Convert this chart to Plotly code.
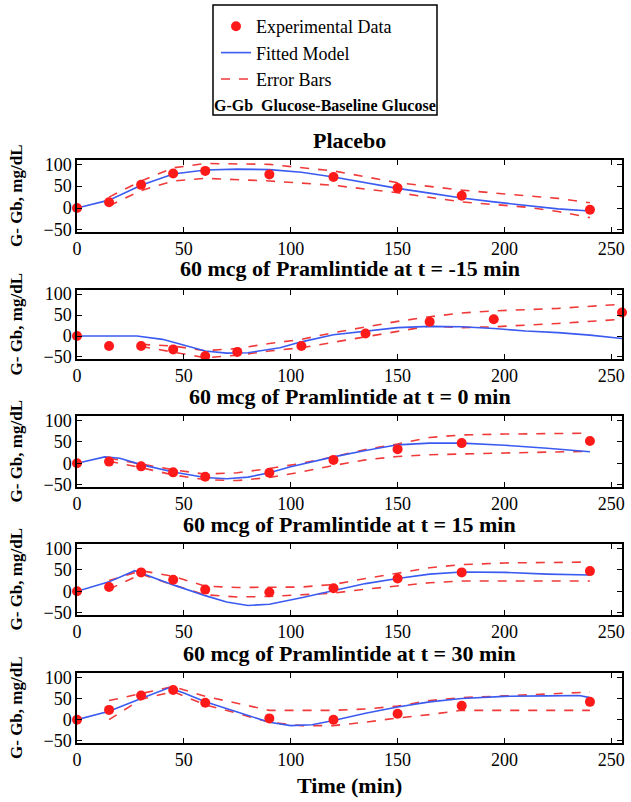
import plotly.graph_objects as go

# experimental sample times (min)
t_exp = [0, 15, 30, 45, 60, 90, 120, 150, 180, 240]
t_exp_m15 = [0, 15, 30, 45, 60, 75, 105, 135, 165, 195, 255]

# Placebo
g_exp_placebo = [0, 13, 53, 79, 85, 77, 71, 46, 28, -4]
t_fit_placebo = [0, 15, 30, 45, 60, 75, 90, 105, 120, 135, 150, 165, 180, 195, 210, 225, 240]
g_fit_placebo = [0, 18, 52, 78, 87, 89, 88, 82, 71, 58, 45, 34, 23, 14, 6, -2, -7]
t_err_placebo = [15, 30, 45, 60, 90, 120, 150, 180, 210, 225, 240]
up_placebo = [25, 62, 92, 102, 100, 85, 58, 41, 28, 22, 12]
lo_placebo = [5, 40, 62, 68, 62, 52, 35, 14, 2, -8, -22]

# t = -15 min
g_exp_m15 = [0, -24, -24, -32, -48, -38, -24, 6, 34, 40, 56]
t_fit_m15 = [0, 28, 40, 50, 60, 70, 80, 95, 105, 120, 135, 150, 165, 180, 195, 210, 225, 240, 255]
g_fit_m15 = [0, 0, -8, -22, -36, -41, -40, -28, -14, 3, 12, 20, 23, 22, 18, 12, 8, 2, -6]
t_err_m15 = [30, 45, 60, 75, 90, 105, 120, 135, 150, 165, 180, 195, 225, 255]
up_m15 = [-20, -24, -35, -30, -18, -8, 8, 22, 35, 46, 55, 60, 66, 76]
lo_m15 = [-25, -38, -52, -46, -36, -28, -15, -2, 12, 24, 20, 22, 30, 40]

# t = 0 min
g_exp_0 = [0, 4, -7, -21, -31, -22, 8, 33, 47, 52]
t_fit_0 = [0, 13, 20, 30, 45, 60, 70, 80, 90, 100, 120, 135, 150, 165, 180, 200, 220, 240]
g_fit_0 = [0, 15, 12, -3, -20, -33, -36, -32, -22, -8, 15, 30, 43, 47, 47, 42, 35, 27]
t_err_0 = [15, 30, 45, 60, 75, 90, 105, 120, 135, 150, 165, 180, 200, 240]
up_0 = [12, -2, -15, -25, -22, -12, 0, 15, 32, 45, 60, 66, 68, 70]
lo_0 = [5, -10, -27, -38, -40, -33, -20, -5, 8, 16, 20, 22, 24, 28]

# t = 15 min
g_exp_15 = [0, 10, 44, 27, 4, -2, 7, 30, 44, 47]
t_fit_15 = [0, 15, 27, 35, 45, 60, 70, 80, 90, 105, 120, 135, 150, 165, 180, 200, 220, 240]
g_fit_15 = [0, 22, 48, 33, 15, -10, -25, -33, -30, -15, 1, 18, 30, 40, 45, 44, 40, 38]
t_err_15 = [15, 30, 45, 60, 75, 90, 105, 120, 135, 150, 165, 180, 200, 240]
up_15 = [25, 48, 35, 12, 9, 9, 10, 16, 30, 42, 55, 62, 66, 68]
lo_15 = [5, 40, 15, -8, -13, -12, -8, -4, 5, 13, 20, 24, 24, 24]

# t = 30 min
g_exp_30 = [0, 23, 57, 70, 40, 3, 0, 14, 33, 42]
t_fit_30 = [0, 15, 30, 43, 50, 60, 75, 90, 100, 110, 120, 135, 150, 165, 180, 200, 220, 235, 240]
g_fit_30 = [0, 20, 50, 75, 63, 42, 18, -6, -14, -12, -2, 15, 30, 42, 50, 55, 56, 57, 52]
t_err_30 = [15, 30, 45, 60, 75, 90, 105, 120, 135, 150, 165, 180, 200, 240]
up_30 = [45, 62, 78, 55, 38, 22, 22, 22, 25, 32, 45, 52, 56, 65]
lo_30 = [0, 48, 66, 35, 15, -6, -14, -14, -6, 4, 12, 22, 22, 22]

titles = [
    "Placebo",
    "60 mcg of Pramlintide at t = -15 min",
    "60 mcg of Pramlintide at t = 0 min",
    "60 mcg of Pramlintide at t = 15 min",
    "60 mcg of Pramlintide at t = 30 min",
]

panels = [
    (t_exp, g_exp_placebo, t_fit_placebo, g_fit_placebo, t_err_placebo, up_placebo, lo_placebo),
    (t_exp_m15, g_exp_m15, t_fit_m15, g_fit_m15, t_err_m15, up_m15, lo_m15),
    (t_exp, g_exp_0, t_fit_0, g_fit_0, t_err_0, up_0, lo_0),
    (t_exp, g_exp_15, t_fit_15, g_fit_15, t_err_15, up_15, lo_15),
    (t_exp, g_exp_30, t_fit_30, g_fit_30, t_err_30, up_30, lo_30),
]

W, H = 631, 802


def px(x):
    return x / W


def py(y):
    return 1 - y / H


# panel boxes in pixels (top, bottom)
boxes = [(160, 232), (290, 359), (416, 487), (544, 615), (673, 743)]
title_y = [140, 268, 396, 524, 653]
x0_px, x1_px = 77, 622

RED = "#f03a3a"
BLUE = "#3b5bf0"
FONT = "Liberation Serif"

fig = go.Figure()
layout = {}
annotations = []

for i, (te, ge, tf, gf, tr, up, lo) in enumerate(panels):
    n = "" if i == 0 else str(i + 1)
    xa, ya = "x" + n, "y" + n
    first = i == 0
    fig.add_trace(go.Scatter(x=tr, y=up, mode="lines", xaxis=xa, yaxis=ya,
                             line=dict(color=RED, width=1.6, dash="dash"),
                             name="Error Bars", legendrank=3, showlegend=first))
    fig.add_trace(go.Scatter(x=tr, y=lo, mode="lines", xaxis=xa, yaxis=ya,
                             line=dict(color=RED, width=1.6, dash="dash"),
                             name="Error Bars", showlegend=False))
    fig.add_trace(go.Scatter(x=tf, y=gf, mode="lines", xaxis=xa, yaxis=ya,
                             line=dict(color=BLUE, width=1.6),
                             name="Fitted Model", legendrank=2, showlegend=first))
    fig.add_trace(go.Scatter(x=te, y=ge, mode="markers", xaxis=xa, yaxis=ya,
                             marker=dict(color="#ff1a1a", size=10),
                             name="Experimental Data", legendrank=1, showlegend=first,
                             cliponaxis=False))

    top, bot = boxes[i]
    axis_common = dict(showline=True, linecolor="black", linewidth=1.5, mirror="ticks",
                       ticks="inside", ticklen=5, tickcolor="black", showgrid=False,
                       zeroline=False, automargin=False,
                       tickfont=dict(family=FONT, size=18, color="black"))
    layout["xaxis" + n] = dict(axis_common, domain=[px(x0_px), px(x1_px)], range=[0, 255],
                               tickvals=[0, 50, 100, 150, 200, 250], anchor=ya)
    layout["yaxis" + n] = dict(axis_common, domain=[py(bot), py(top)], range=[-55, 110],
                               tickvals=[-50, 0, 50, 100], anchor=xa)

    annotations.append(dict(text="<b>" + titles[i] + "</b>", xref="paper", yref="paper",
                            x=px((x0_px + x1_px) / 2), y=py(title_y[i]), showarrow=False,
                            xanchor="center", yanchor="middle",
                            font=dict(family=FONT, size=22, color="black")))
    annotations.append(dict(text="<b>G- Gb, mg/dL</b>", xref="paper", yref="paper",
                            x=px(16), y=py((top + bot) / 2), showarrow=False, textangle=-90,
                            xanchor="center", yanchor="middle",
                            font=dict(family=FONT, size=17, color="black")))

annotations.append(dict(text="<b>Time (min)</b>", xref="paper", yref="paper",
                        x=px((x0_px + x1_px) / 2), y=py(785), showarrow=False,
                        xanchor="center", yanchor="middle",
                        font=dict(family=FONT, size=22, color="black")))
annotations.append(dict(text="<b>G-Gb  Glucose-Baseline Glucose</b>", xref="paper", yref="paper",
                        x=px(212), y=py(106), showarrow=False,
                        xanchor="left", yanchor="middle",
                        font=dict(family=FONT, size=16, color="black")))

fig.update_layout(
    width=W, height=H,
    margin=dict(l=0, r=0, t=0, b=0, autoexpand=False),
    plot_bgcolor="white", paper_bgcolor="white",
    annotations=annotations,
    shapes=[dict(type="rect", xref="paper", yref="paper",
                 x0=px(213), x1=px(437), y0=py(115), y1=py(5),
                 line=dict(color="black", width=1.5))],
    legend=dict(x=px(216), y=py(8), xanchor="left", yanchor="top",
                bgcolor="rgba(0,0,0,0)", font=dict(family=FONT, size=18, color="black"),
                tracegroupgap=0),
    **layout,
)

# drop the default 8px page margin so the figure fills the window
fig.write_html("out.html", config={"displayModeBar": False},
               post_script="document.body.style.margin = '0px';")
